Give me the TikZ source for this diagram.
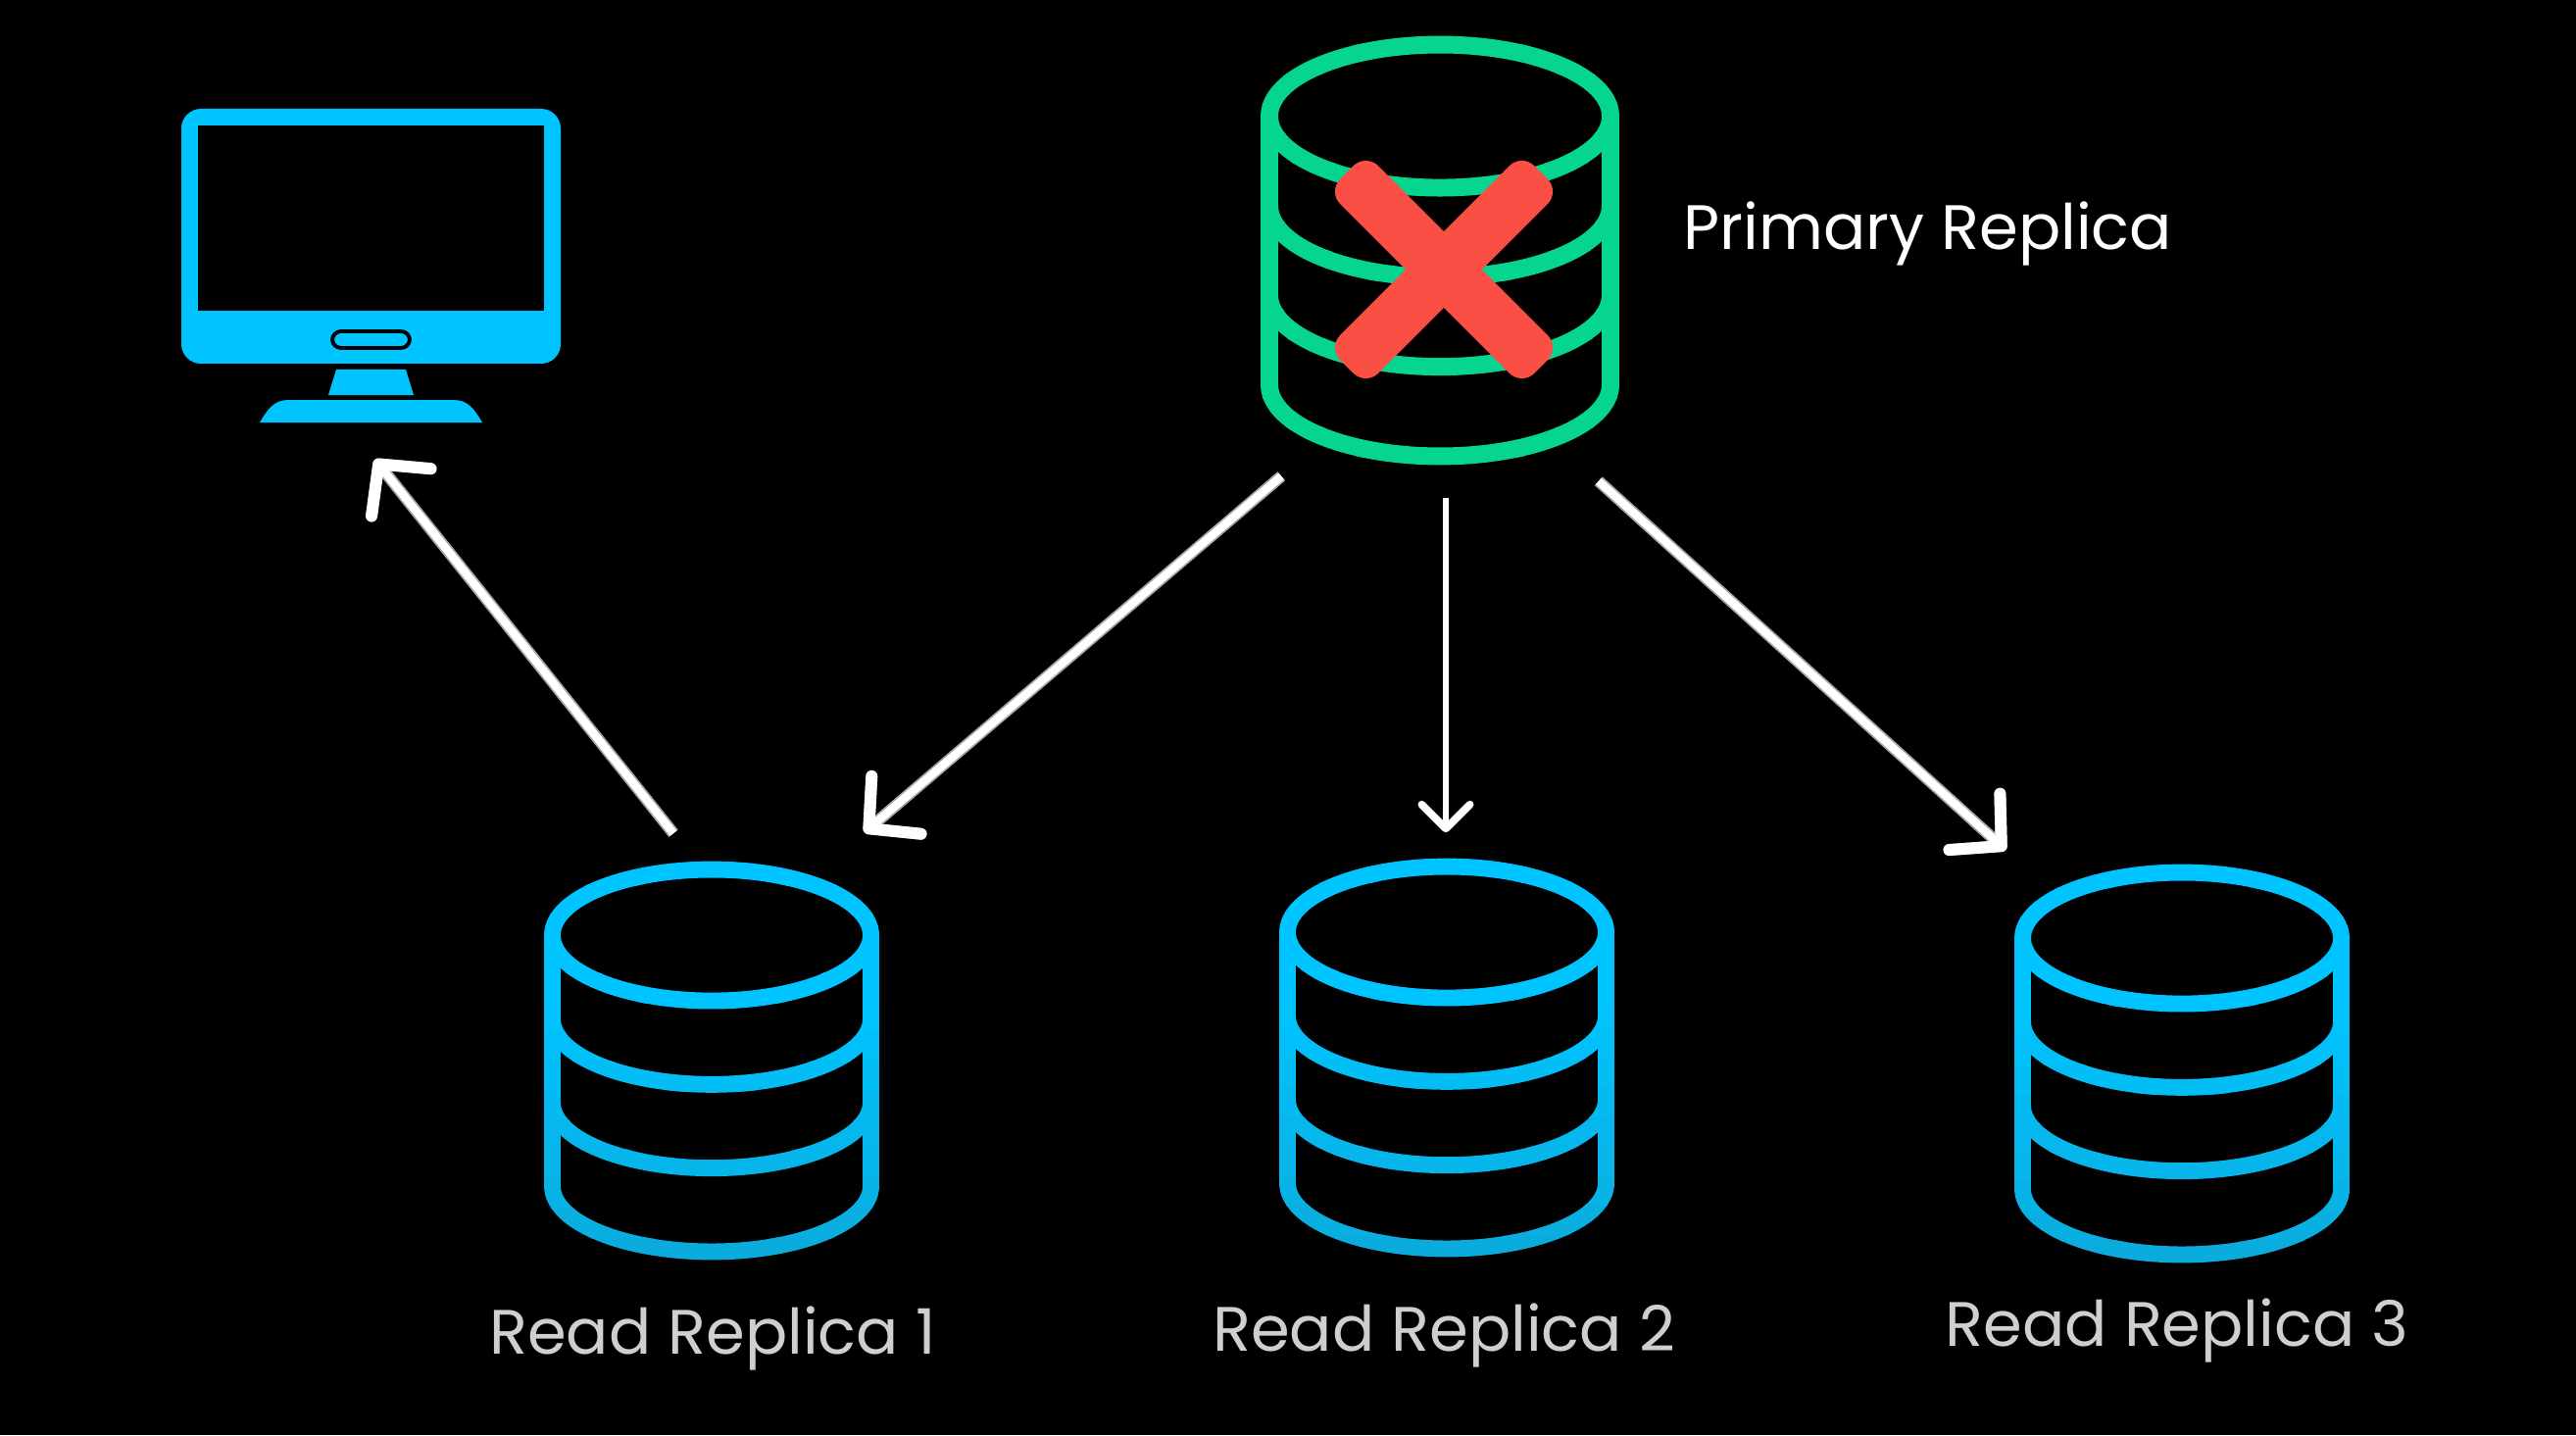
\documentclass[tikz,border=0pt]{standalone}
\usepackage{fontspec}
\setmainfont{Poppins}
\usetikzlibrary{arrows.meta}

\definecolor{dbgreen}{HTML}{05D58F}
\definecolor{dbblue}{HTML}{00C4FF}
\definecolor{dbfade}{HTML}{0AA9D8}
\definecolor{crossred}{HTML}{F94F45}
\definecolor{labelgray}{HTML}{CFCFCF}

\tikzset{
  primarybox/.style={minimum width=3.66cm, minimum height=4.39cm, inner sep=0pt},
  readbox/.style={minimum width=3.42cm, minimum height=4.08cm, inner sep=0pt},
  monitorbox/.style={minimum width=3.87cm, minimum height=3.2cm, inner sep=0pt},
  crossbar/.style={fill=crossred, rounded corners=1.8mm, minimum width=2.8cm, minimum height=0.55cm, inner sep=0pt},
  caption/.style={anchor=base, inner sep=0pt, text=labelgray, font=\fontsize{18.2}{20}\selectfont},
  wire/.style={draw=white, line width=2.4pt, preaction={draw=gray!70, line width=3.4pt},
    -{Straight Barb[length=10.5pt, width=22pt, line width=3.4pt, round]}},
  thinwire/.style={draw=white, line width=1.6pt, -{Straight Barb[length=7pt, width=14pt, line width=2.2pt, round]}}
}

% #1 node, #2 x radius, #3 y radius, #4 band height, #5 line width, #6 top colour, #7 bottom colour
\newcommand{\dbicon}[7]{
  \foreach \k in {0,...,15}{
    \pgfmathsetmacro{\pct}{min(100,160-160*\k/15)}
    \begin{scope}[shift={(#1)}]
      \clip (-200,-240+30*\k) rectangle (200,-240+30*\k+31);
      \draw[color=#6!\pct!#7, line width=#5]
        (0,-1.5*#4) ellipse [x radius=#2*0.01cm, y radius=#3*0.01cm]
        (-#2,-1.5*#4) -- (-#2,1.5*#4) arc [start angle=180, end angle=360, x radius=#2*0.01cm, y radius=#3*0.01cm] -- (#2,-1.5*#4)
        (-#2,-0.5*#4) arc [start angle=180, end angle=360, x radius=#2*0.01cm, y radius=#3*0.01cm]
        (-#2,0.5*#4) arc [start angle=180, end angle=360, x radius=#2*0.01cm, y radius=#3*0.01cm];
    \end{scope}
  }
}

\begin{document}
\begin{tikzpicture}[x=0.01cm, y=-0.01cm]
  \fill[black] (0,0) rectangle (2628,1464);

  \node[monitorbox] (monitor) at (378.5,271) {};
  \node[primarybox] (primary) at (1469,255.5) {};
  \node[readbox] (read1) at (726,1082) {};
  \node[readbox] (read2) at (1476,1079) {};
  \node[readbox] (read3) at (2226,1085) {};

  \fill[dbblue, rounded corners=0.2cm] (185,111) rectangle (572,371);
  \fill[black] (202,128) rectangle (555,317);
  \draw[black, line width=1.1pt, rounded corners=0.09cm] (339,338) rectangle (418,355);
  \fill[dbblue] (343,377) -- (414,377) -- (422,403) -- (335,403) -- cycle;
  \fill[dbblue] (265,431) .. controls (274,416) and (280,408) .. (295,408) -- (462,408)
    .. controls (477,408) and (483,416) .. (492,431) -- cycle;

  \dbicon{primary}{174}{73}{91.3}{5.1pt}{dbgreen}{dbgreen}
  \dbicon{read1}{162.5}{67}{85.3}{4.8pt}{dbblue}{dbfade}
  \dbicon{read2}{162.5}{67}{85.3}{4.8pt}{dbblue}{dbfade}
  \dbicon{read3}{162.5}{67}{85.3}{4.8pt}{dbblue}{dbfade}

  \node[crossbar, rotate=45] (crossa) at (1473,275) {};
  \node[crossbar, rotate=-45] (crossb) at (1473,275) {};

  \node[caption, text=white, anchor=base west] (primarylabel) at (1717,255) {Primary Replica};
  \node[caption] (read1label) at (727,1381) {Read Replica 1};
  \node[caption] (read2label) at (1473,1378) {Read Replica 2};
  \node[caption] (read3label) at (2221,1373) {Read Replica 3};

  \draw[wire] ([shift={(-39,-27)}]read1.north) -- ([shift={(4,37)}]monitor.south);
  \draw[wire] ([shift={(22,10)}]primary.south west) -- ([shift={(-16,-28)}]read1.north east);
  \draw[thinwire] ([shift={(6,32)}]primary.south) -- ([shift={(-1,-25)}]read2.north);
  \draw[wire] ([shift={(-22,15)}]primary.south east) -- ([shift={(-8,-13)}]read3.north west);
\end{tikzpicture}
\end{document}
